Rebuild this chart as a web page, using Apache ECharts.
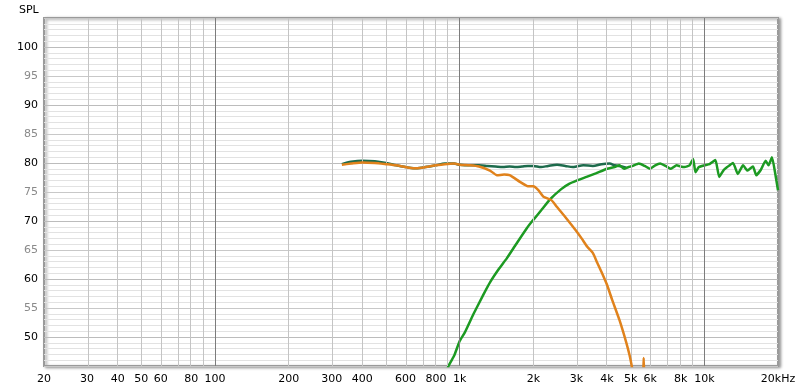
<!DOCTYPE html>
<html>
<head>
<meta charset="utf-8">
<script src="https://cdn.jsdelivr.net/npm/echarts@6/dist/echarts.min.js"></script>
<style>html,body{margin:0;padding:0;background:#fff;}#c{width:800px;height:391px;}</style>
</head>
<body>
<div id="c"></div>
<script>
// ---- data (frequency in Hz, level in dB SPL) ----
const sumFreq = [330,360,400,450,500,550,600,650,700,750,800,870,950,1000,1100,1200,1300,1400,1500,1600,1700,1800,1900,2000,2150,2300,2500,2700,2900,3000,3200,3500,3800,4100,4300,4600,4800];
const sumDb   = [79.8,80.2,80.4,80.3,80.0,79.6,79.3,79.1,79.2,79.4,79.6,79.9,79.9,79.7,79.6,79.6,79.5,79.4,79.3,79.4,79.3,79.4,79.5,79.5,79.3,79.5,79.7,79.5,79.3,79.4,79.6,79.5,79.8,79.9,79.6,79.4,79.2];

const wooferFreq = [330,360,400,450,500,550,600,650,700,750,800,870,950,1000,1100,1200,1330,1420,1520,1600,1770,1900,2000,2100,2200,2370,2500,2700,2980,3150,3330,3500,3650,3800,4000,4200,4500,4800,4950,5050,5200,5450,5600,5650,5700,5800];
const wooferDb   = [79.7,79.9,80.1,80.0,79.8,79.6,79.3,79.1,79.2,79.4,79.6,79.8,79.9,79.7,79.6,79.4,78.7,77.9,78.0,77.9,76.7,76.0,76.0,75.3,74.2,73.6,72.4,70.7,68.4,67.0,65.5,64.5,62.8,61.2,59.0,56.4,52.9,49.0,46.8,45.0,42.0,40.0,41.0,46.4,41.0,38.0];

const tweeterFreq = [860,900,950,1000,1050,1140,1250,1334,1450,1560,1700,1884,2000,2150,2350,2600,2800,3020,3300,3600,4000,4300,4500,4700,4900,5100,5400,5700,6000,6300,6600,7000,7300,7700,8000,8300,8700,9000,9200,9500,10000,10500,11100,11500,12000,12400,13100,13700,14400,15000,15800,16300,17000,17800,18300,18900,19500,20000];
const tweeterDb   = [42.0,45.0,46.8,49.3,50.8,54.0,57.3,59.5,61.8,63.6,66.0,68.8,70.2,71.8,73.8,75.5,76.4,77.0,77.6,78.2,79.0,79.3,79.6,79.0,79.3,79.5,79.9,79.5,79.0,79.6,79.9,79.4,79.0,79.6,79.4,79.3,79.6,80.7,78.4,79.3,79.6,79.8,80.5,77.6,78.8,79.3,80.0,78.1,79.6,78.7,79.4,77.9,78.8,80.4,79.6,81.0,78.1,75.3];

const xLabelFreqs = [20,30,40,50,60,80,100,200,300,400,600,800,1000,2000,3000,4000,5000,6000,8000,10000,20000];
const minorGridFreqs = [30,40,50,60,70,80,90,200,300,400,500,600,700,800,900,2000,3000,4000,5000,6000,7000,8000,9000];
const majorGridFreqs = [100,1000,10000];
const yLabelValues = [50,55,60,65,70,75,80,85,90,95,100];

// ---- build ----
const lg = f => Math.log10(f);
const pts = (fs, ds) => fs.map((f, i) => [lg(f), ds[i]]);
function fmtFreq(v) {
  const f = Math.round(Math.pow(10, v));
  if (f === 20000) return '20kHz';
  if (f >= 1000) return (f / 1000) + 'k';
  return String(f);
}
const FONT = 'DejaVu Sans';

const chart = echarts.init(document.getElementById('c'), null, {renderer: 'canvas'});
chart.setOption({
  animation: false,
  backgroundColor: '#ffffff',
  title: {
    text: 'SPL', left: 14, top: 0,
    textStyle: {fontFamily: FONT, fontSize: 11, fontWeight: 'normal', color: '#000'}
  },
  grid: {
    left: 44, right: 22, top: 18, bottom: 25,
    show: true, backgroundColor: '#fff',
    borderColor: '#9a9a9a', borderWidth: 2,
    shadowColor: 'rgba(0,0,0,0.35)', shadowBlur: 3, shadowOffsetX: 2, shadowOffsetY: 1
  },
  xAxis: {
    type: 'value', min: lg(20), max: lg(20000),
    axisLine: {show: false}, axisTick: {show: false}, splitLine: {show: false},
    axisLabel: {
      customValues: xLabelFreqs.map(lg),
      formatter: fmtFreq,
      fontFamily: FONT, fontSize: 11, color: '#000', margin: 8
    }
  },
  yAxis: {
    type: 'value', min: 45, max: 105, interval: 1,
    axisLine: {show: false}, axisTick: {show: false},
    splitLine: {
      show: true,
      lineStyle: {
        width: 1,
        color: ['#c8c8c8','#e2e2e2','#e2e2e2','#e2e2e2','#e2e2e2','#bcbcbc','#e2e2e2','#e2e2e2','#e2e2e2','#e2e2e2']
      }
    },
    axisLabel: {
      customValues: yLabelValues,
      fontFamily: FONT, fontSize: 11, margin: 6,
      color: v => (v % 10 === 0 ? '#000' : '#8a8a8a')
    }
  },
  series: [
    {
      type: 'line', data: [], silent: true,
      markLine: {
        silent: true, symbol: 'none', animation: false,
        label: {show: false},
        data: minorGridFreqs.map(f => ({xAxis: lg(f), lineStyle: {color: '#c4c4c4', width: 1, type: 'solid'}}))
          .concat(majorGridFreqs.map(f => ({xAxis: lg(f), lineStyle: {color: '#7c7c7c', width: 1, type: 'solid'}})))
      },
      z: 1
    },
    {
      name: 'Sum', type: 'line', data: pts(sumFreq, sumDb),
      showSymbol: false, smooth: 0.3, clip: true,
      lineStyle: {color: '#1d6b4c', width: 2.5}, z: 3
    },
    {
      name: 'Tweeter', type: 'line', data: pts(tweeterFreq, tweeterDb),
      showSymbol: false, smooth: 0.15, clip: true,
      lineStyle: {color: '#1c9a22', width: 2.5}, z: 4
    },
    {
      name: 'Woofer', type: 'line', data: pts(wooferFreq, wooferDb),
      showSymbol: false, smooth: 0.2, clip: true,
      lineStyle: {color: '#e0821c', width: 2.5}, z: 5
    }
  ]
});
</script>
</body>
</html>
